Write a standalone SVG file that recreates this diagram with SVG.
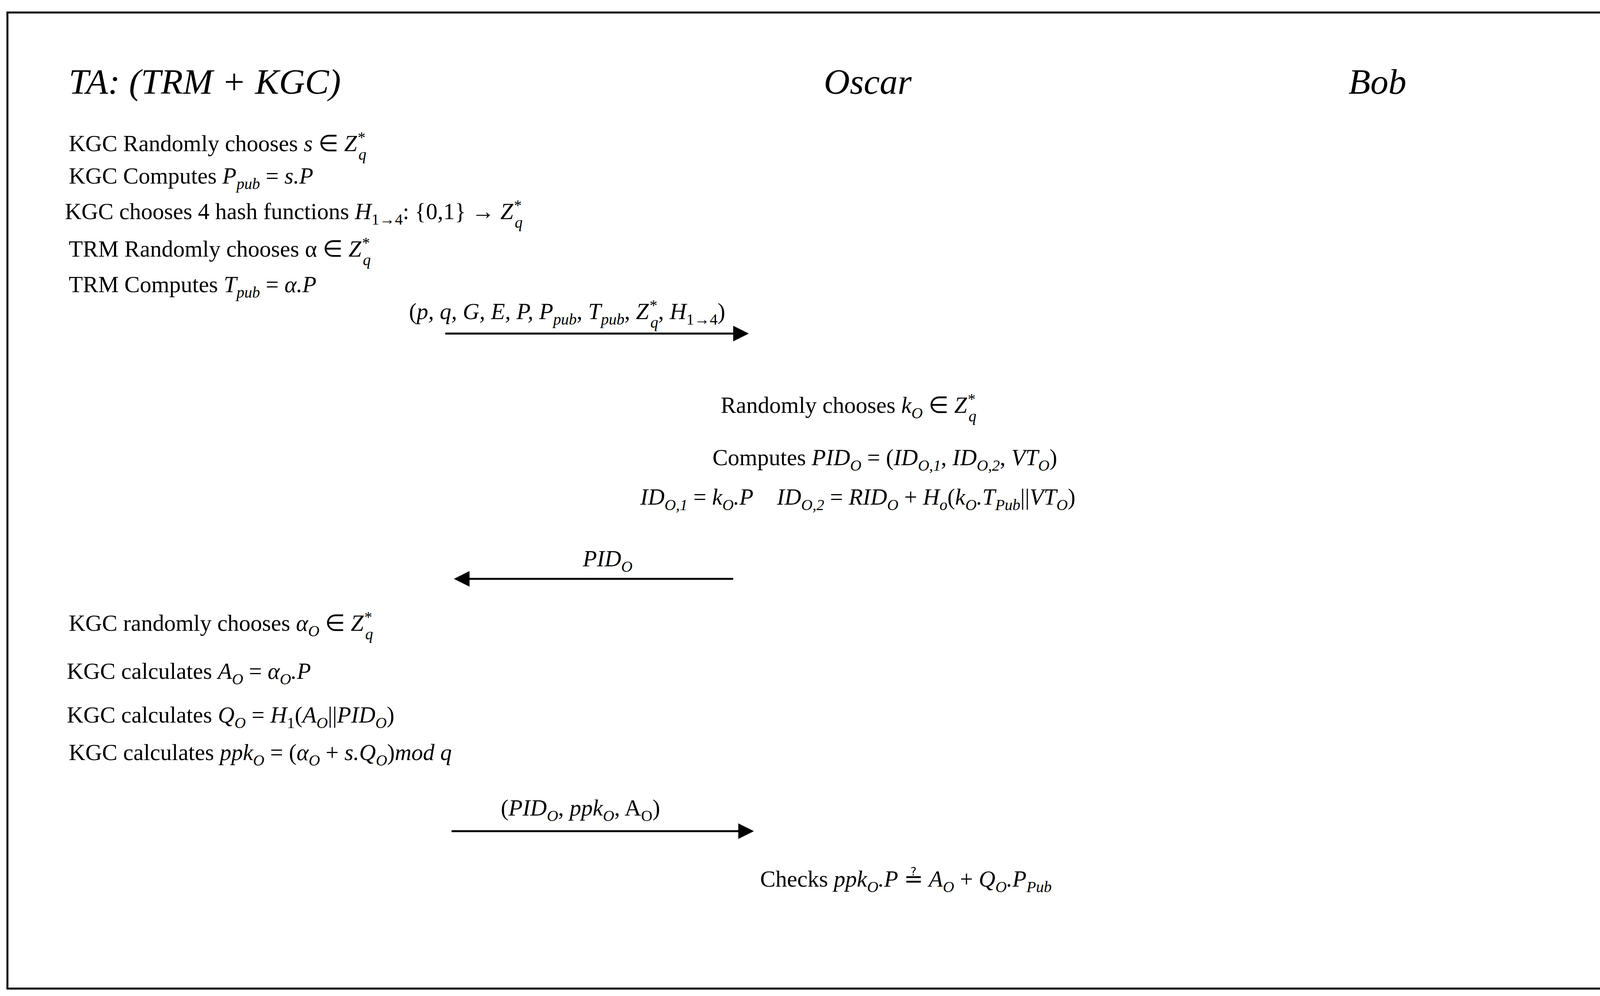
<svg xmlns="http://www.w3.org/2000/svg" width="4186" height="2550" viewBox="0 0 4186 2550">
<style>
text{font-family:"Liberation Serif",serif;font-size:59px;fill:#000}
.m{font-style:italic}
.t{font-size:92px;font-style:italic}
.s{font-size:40px;font-style:italic}
.u{font-size:40px}
.c{stroke:#000;stroke-width:5;fill:none}
</style>
<defs><marker id="a" markerWidth="8" markerHeight="8" refX="7" refY="4" orient="auto" markerUnits="strokeWidth"><path d="M0,0 L8,4 L0,8 z" fill="#000"/></marker></defs>
<rect x="19" y="32" width="4149" height="2499" fill="#fff" stroke="#000" stroke-width="5"/>
<g id="ta"><text class="t" x="176" y="240">TA: (TRM + KGC)</text></g>
<g id="oscar"><text class="t" x="2109" y="240">Oscar</text></g>
<g id="bob"><text class="t" x="3452" y="240">Bob</text></g>
<g id="ta-setup">
<text x="176" y="387">KGC Randomly  chooses <tspan class="m">s</tspan> ∈ <tspan class="m">Z</tspan><tspan class="s" dy="-22">*</tspan><tspan class="s" dx="-16" dy="44">q</tspan></text>
<text x="176" y="470">KGC Computes <tspan class="m">P</tspan><tspan class="s" dy="14">pub</tspan><tspan dy="-14"> = </tspan><tspan class="m">s.P</tspan></text>
<text x="166" y="561">KGC chooses 4 hash functions <tspan class="m">H</tspan><tspan class="u" dy="14">1→4</tspan><tspan dy="-14">: {0,1} → </tspan><tspan class="m">Z</tspan><tspan class="s" dy="-22">*</tspan><tspan class="s" dx="-16" dy="44">q</tspan></text>
<text x="176" y="657">TRM Randomly  chooses α ∈ <tspan class="m">Z</tspan><tspan class="s" dy="-22">*</tspan><tspan class="s" dx="-16" dy="44">q</tspan></text>
<text x="176" y="748">TRM Computes <tspan class="m">T</tspan><tspan class="s" dy="14">pub</tspan><tspan dy="-14"> = </tspan><tspan class="m">α.P</tspan></text>
</g>
<g id="oscar-pid">
<text x="1845" y="1057">Randomly  chooses <tspan class="m">k</tspan><tspan class="s" dy="14">O</tspan><tspan dy="-14"> ∈ </tspan><tspan class="m">Z</tspan><tspan class="s" dy="-22">*</tspan><tspan class="s" dx="-16" dy="44">q</tspan></text>
<text x="1824" y="1191">Computes <tspan class="m">PID</tspan><tspan class="s" dy="14">O</tspan><tspan dy="-14"> = (</tspan><tspan class="m">ID</tspan><tspan class="s" dy="14">O,1</tspan><tspan dy="-14">, </tspan><tspan class="m">ID</tspan><tspan class="s" dy="14">O,2</tspan><tspan dy="-14">, </tspan><tspan class="m">VT</tspan><tspan class="s" dy="14">O</tspan><tspan dy="-14">)</tspan></text>
<text x="1639" y="1292"><tspan class="m">ID</tspan><tspan class="s" dy="14">O,1</tspan><tspan dy="-14"> = </tspan><tspan class="m">k</tspan><tspan class="s" dy="14">O</tspan><tspan class="m" dy="-14">.P</tspan><tspan dx="60" class="m">ID</tspan><tspan class="s" dy="14">O,2</tspan><tspan dy="-14"> = </tspan><tspan class="m">RID</tspan><tspan class="s" dy="14">O</tspan><tspan dy="-14"> + </tspan><tspan class="m">H</tspan><tspan class="s" dy="14">o</tspan><tspan dy="-14">(</tspan><tspan class="m">k</tspan><tspan class="s" dy="14">O</tspan><tspan class="m" dy="-14">.T</tspan><tspan class="s" dy="14">Pub</tspan><tspan dy="-14">||</tspan><tspan class="m">VT</tspan><tspan class="s" dy="14">O</tspan><tspan dy="-14">)</tspan></text>
</g>
<g id="ta-keys">
<text x="176" y="1615">KGC randomly  chooses <tspan class="m">α</tspan><tspan class="s" dy="14">O</tspan><tspan dy="-14"> ∈ </tspan><tspan class="m">Z</tspan><tspan class="s" dy="-22">*</tspan><tspan class="s" dx="-16" dy="44">q</tspan></text>
<text x="171" y="1738">KGC calculates <tspan class="m">A</tspan><tspan class="s" dy="14">O</tspan><tspan dy="-14"> = </tspan><tspan class="m">α</tspan><tspan class="s" dy="14">O</tspan><tspan class="m" dy="-14">.P</tspan></text>
<text x="171" y="1850">KGC calculates <tspan class="m">Q</tspan><tspan class="s" dy="14">O</tspan><tspan dy="-14"> = </tspan><tspan class="m">H</tspan><tspan class="u" dy="14">1</tspan><tspan dy="-14">(</tspan><tspan class="m">A</tspan><tspan class="s" dy="14">O</tspan><tspan dy="-14">||</tspan><tspan class="m">PID</tspan><tspan class="s" dy="14">O</tspan><tspan dy="-14">)</tspan></text>
<text x="176" y="1946">KGC calculates <tspan class="m">ppk</tspan><tspan class="s" dy="14">O</tspan><tspan dy="-14"> = (</tspan><tspan class="m">α</tspan><tspan class="s" dy="14">O</tspan><tspan dy="-14"> + </tspan><tspan class="m">s.Q</tspan><tspan class="s" dy="14">O</tspan><tspan dy="-14">)</tspan><tspan class="m">mod q</tspan></text>
</g>
<g id="oscar-check">
<text x="1946" y="2270">Checks <tspan class="m">ppk</tspan><tspan class="s" dy="14">O</tspan><tspan class="m" dy="-14">.P</tspan><tspan> ≟ </tspan><tspan class="m">A</tspan><tspan class="s" dy="14">O</tspan><tspan dy="-14"> + </tspan><tspan class="m">Q</tspan><tspan class="s" dy="14">O</tspan><tspan class="m" dy="-14">.P</tspan><tspan class="s" dy="14">Pub</tspan></text>
</g>
<g id="connectors">
<line class="c" x1="1140" y1="854" x2="1912" y2="854" marker-end="url(#a)"/>
<text x="1047" y="817">(<tspan class="m">p, q, G, E, P, P</tspan><tspan class="s" dy="14">pub</tspan><tspan dy="-14">, </tspan><tspan class="m">T</tspan><tspan class="s" dy="14">pub</tspan><tspan dy="-14">, </tspan><tspan class="m">Z</tspan><tspan class="s" dy="-22">*</tspan><tspan class="s" dx="-16" dy="44">q</tspan><tspan dy="-22">, </tspan><tspan class="m">H</tspan><tspan class="u" dy="14">1→4</tspan><tspan dy="-14">)</tspan></text>
<line class="c" x1="1877" y1="1482" x2="1167" y2="1482" marker-end="url(#a)"/>
<text x="1492" y="1450"><tspan class="m">PID</tspan><tspan class="s" dy="14">O</tspan></text>
<line class="c" x1="1156" y1="2128" x2="1925" y2="2128" marker-end="url(#a)"/>
<text x="1282" y="2088">(<tspan class="m">PID</tspan><tspan class="s" dy="14">O</tspan><tspan dy="-14">, </tspan><tspan class="m">ppk</tspan><tspan class="s" dy="14">O</tspan><tspan dy="-14">, A</tspan><tspan class="u" dy="14">O</tspan><tspan dy="-14">)</tspan></text>
</g>
</svg>
